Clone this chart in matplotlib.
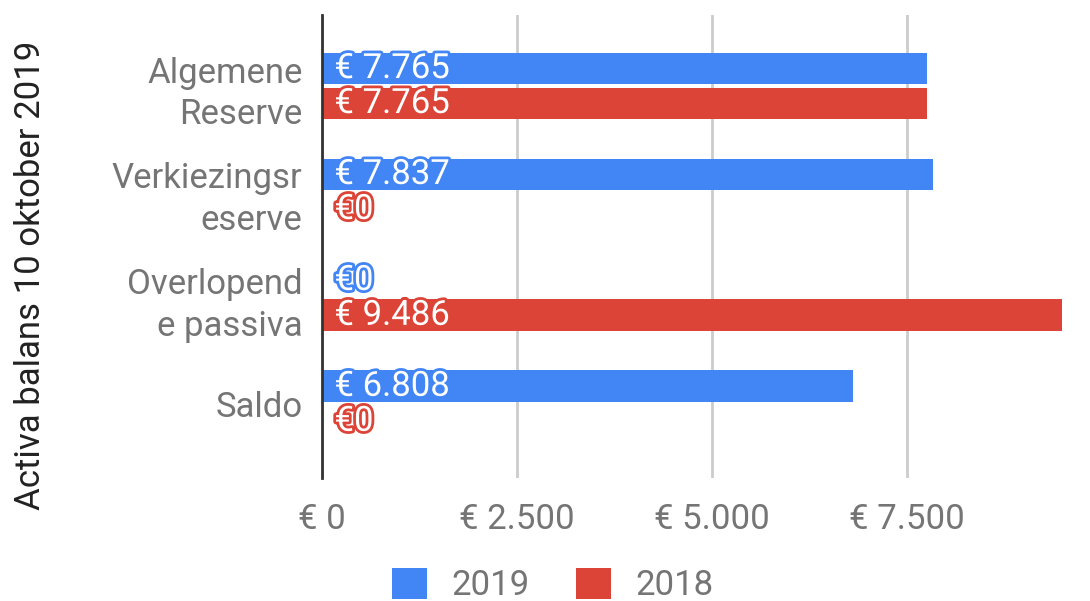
import matplotlib.pyplot as plt
import matplotlib.patheffects as pe
import numpy as np

plt.rcParams.update({'font.family': ['Roboto', 'DejaVu Sans'], 'font.size': 25})

categories = ['Algemene\nReserve', 'Verkiezingsr\neserve', 'Overlopend\ne passiva', 'Saldo']
values_2019 = [7765, 7837, 0, 6808]
values_2018 = [7765, 0, 9486, 0]
x_ticks = [0, 2500, 5000, 7500]

def euro(v):
  return '€ ' + f'{v:,}'.replace(',', '.')

blue = '#4285F4'
red = '#DB4437'
grey = '#757575'

fig = plt.figure(figsize=(10.9, 6.01), dpi=100)
ax = fig.add_axes([0.2954, 0.2047, 0.6796, 0.7703])

y = np.arange(len(categories))
h = 0.30
b1 = ax.barh(y - 0.165, values_2019, h, color=blue, label='2019', zorder=2)
b2 = ax.barh(y + 0.165, values_2018, h, color=red, label='2018', zorder=2)

for bars, vals, col in [(b1, values_2019, blue), (b2, values_2018, red)]:
  for rect, v in zip(bars, vals):
    txt = euro(v) if v else '€0'
    ax.text(160, rect.get_y() + rect.get_height() / 2, txt, color='white',
            fontsize=25, va='center', ha='left', zorder=3,
            path_effects=[pe.withStroke(linewidth=4, foreground=col)])

ax.set_xlim(0, 9500)
ax.set_ylim(3.7, -0.67)
ax.set_xticks(x_ticks, [euro(t) if t else '€ 0' for t in x_ticks])
ax.set_yticks(y, categories)
ax.tick_params(length=0, colors=grey, labelsize=25)
ax.tick_params(axis='x', pad=18)
ax.tick_params(axis='y', pad=14)
for lbl in ax.get_yticklabels():
  lbl.set_linespacing(1.32)
ax.grid(axis='x', color='#cccccc', linewidth=2, zorder=0)
for s in ['top', 'right', 'bottom']:
  ax.spines[s].set_visible(False)
ax.spines['left'].set_color('#333333')
ax.spines['left'].set_linewidth(2)
ax.spines['left'].set_zorder(4)

fig.text(0.028, 0.542, 'Activa balans 10 oktober 2019', rotation=90, va='center',
         ha='center', color='#222222', fontsize=25)

fig.legend(handles=[b1, b2], loc='center', bbox_to_anchor=(0.507, 0.027), ncol=2,
           frameon=False, handlelength=1.0, handleheight=1.0, columnspacing=1.35,
           handletextpad=0.7, labelcolor=grey, fontsize=25)

fig.savefig('out.png', dpi=100)
